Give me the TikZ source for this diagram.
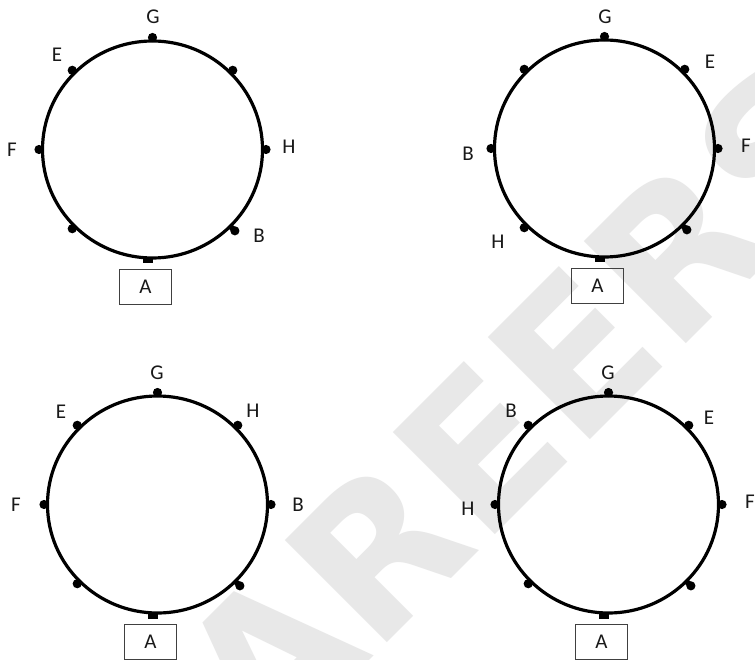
\documentclass[tikz,border=0pt]{standalone}
\usepackage{fontspec}
\setmainfont{Carlito}
\newfontfamily\wmfont{DejaVu Sans Bold}
\usetikzlibrary{calc}
\newcommand\myring[3]{%
  \coordinate (#1) at (#2,#3);
  \draw[ringline] (#1) ellipse [x radius=110pt, y radius=108.5pt];
  \foreach \a in {90,45,0,180,135,-135}
    \fill[dotfill] ($(#1)+(\a:113.5pt and 112pt)$) circle[radius=4.6pt];
  \draw[line width=5.5pt] ($(#1)+(-45:109pt and 107.5pt)$) -- ($(#1)+(-45:115pt and 113.5pt)$);
  \fill[dotfill] ($(#1)+(-45:116.5pt and 115pt)$) circle[radius=4.6pt];
  \fill[dotfill] ($(#1)+(-10,108)$) rectangle ++(10.5,6);
  \node[abox] (#1A) at ($(#1)+(-7,137.5)$) {A};
}
\begin{document}
\begin{tikzpicture}[x=1pt,y=-1pt,
  lbl/.style={inner sep=0pt,text=black!90,font=\fontsize{21}{22}\selectfont},
  ringline/.style={line width=3.2pt},
  dotfill/.style={fill=black},
  abox/.style={draw=black!75,line width=1.2pt,minimum width=52pt,minimum height=35pt,inner sep=0pt,text=black!90,font=\fontsize{21}{22}\selectfont},
  wm/.style={text=black!9,inner sep=0pt,font=\wmfont\fontsize{198}{198}\selectfont}]
\useasboundingbox (0,0) rectangle (755,660);
\clip (0,0) rectangle (755,660);
\fill[white] (0,0) rectangle (755,660);
\node[wm,rotate=45,anchor=base west] (wm) at (266,764) {AREERS};

\myring{c1}{152.5}{149.5}
\myring{c2}{604.5}{148.5}
\myring{c3}{157.5}{504.5}
\myring{c4}{608.5}{504.5}

% circle 1 labels
\node[lbl] (g1) at (153,17) {G};
\node[lbl] (e1) at (57,55) {E};
\node[lbl] (f1) at (12,150) {F};
\node[lbl] (h1) at (289,147) {H};
\node[lbl] (b1) at (259,236) {B};
% circle 2 labels
\node[lbl] (g2) at (605,17) {G};
\node[lbl] (e2) at (710,62) {E};
\node[lbl] (f2) at (746,146) {F};
\node[lbl] (b2) at (468,154) {B};
\node[lbl] (h2) at (498,242) {H};
% circle 3 labels
\node[lbl] (g3) at (157,373) {G};
\node[lbl] (e3) at (61,412) {E};
\node[lbl] (h3) at (253,411) {H};
\node[lbl] (f3) at (16,505) {F};
\node[lbl] (b3) at (298,505) {B};
% circle 4 labels
\node[lbl] (g4) at (608,373) {G};
\node[lbl] (b4) at (511,411) {B};
\node[lbl] (e4) at (709,418) {E};
\node[lbl] (h4) at (468,509) {H};
\node[lbl] (f4) at (750,502) {F};
\end{tikzpicture}
\end{document}
